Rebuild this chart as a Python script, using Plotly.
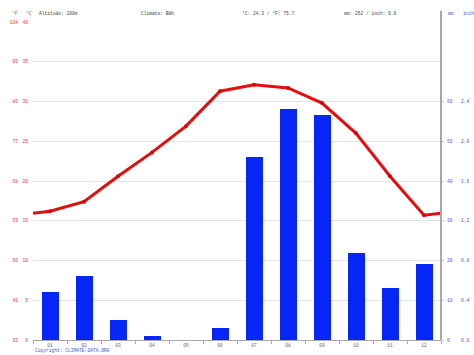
import plotly.graph_objects as go

months = ["01", "02", "03", "04", "05", "06", "07", "08", "09", "10", "11", "12"]
precip_mm = [12, 16, 5, 1, 0, 3, 46, 58, 56.5, 22, 13, 19]
temp_c = [16.2, 17.4, 20.6, 23.6, 26.9, 31.3, 32.1, 31.7, 29.8, 26.0, 20.6, 15.7]

c_ticks = [0, 5, 10, 15, 20, 25, 30, 35, 40]
f_ticks = [32, 41, 50, 59, 68, 77, 86, 95, 104]
mm_ticks = [0, 10, 20, 30, 40, 50, 60]
inch_labels = ["0.0", "0.4", "0.8", "1.2", "1.6", "2.0", "2.4"]

header = ["Altitude: 200m", "Climate: BWh", "°C: 24.3 / °F: 75.7", "mm: 252 / inch: 9.9"]

FONT = "Liberation Mono"
FS = 4.6
RED = "#e8322e"
BLUE = "#3f55d6"
GRID = "#e4e4e4"
AXIS = "#a8a8a8"

xs = list(range(1, 13))
edge = (temp_c[0] + temp_c[-1]) / 2
line_x = [0.5] + xs + [12.5]
line_y = [edge] + temp_c + [edge]

fig = go.Figure()
fig.add_trace(go.Bar(x=xs, y=precip_mm, yaxis="y2", width=0.5,
                     marker=dict(color="#0526f7", line=dict(width=0)), hoverinfo="skip"))
fig.add_trace(go.Scatter(x=line_x, y=line_y, yaxis="y", mode="lines",
                         line=dict(color="#e60d0d", width=3), hoverinfo="skip"))
fig.add_trace(go.Scatter(x=xs, y=temp_c, yaxis="y", mode="markers",
                         marker=dict(color="#d40808", size=4), hoverinfo="skip"))
# carrier traces so the °F and inch axes are drawn
fig.add_trace(go.Scatter(x=[None], y=[None], yaxis="y3", mode="lines", hoverinfo="skip"))
fig.add_trace(go.Scatter(x=[None], y=[None], yaxis="y4", mode="lines", hoverinfo="skip"))

tickfont_red = dict(family=FONT, size=FS, color=RED)
tickfont_blue = dict(family=FONT, size=FS, color=BLUE)

fig.update_layout(
    width=474, height=355,
    margin=dict(l=33, r=33, t=22, b=15, autoexpand=False),
    paper_bgcolor="white", plot_bgcolor="white",
    showlegend=False,
    bargap=0,
    xaxis=dict(range=[0.5, 12.5], tickvals=xs, ticktext=months, ticks="",
               showgrid=False, zeroline=False, showline=True, linecolor=AXIS, linewidth=1,
               tickfont=dict(family=FONT, size=FS, color="#666666"),
               minor=dict(ticks="outside", tick0=0.5, dtick=1, ticklen=3, tickcolor=AXIS, showgrid=False)),
    yaxis=dict(range=[0, 40], tickvals=c_ticks, ticktext=[str(v) for v in c_ticks],
               showgrid=True, gridcolor=GRID, gridwidth=1, zeroline=False, showline=False,
               tickfont=tickfont_red, ticks="", ticklabelstandoff=4, automargin=False),
    yaxis3=dict(range=[32, 104], tickvals=f_ticks, ticktext=[str(v) for v in f_ticks],
                overlaying="y", anchor="free", position=0, side="left", automargin=False,
                showgrid=False, zeroline=False, showline=False,
                tickfont=tickfont_red, ticks="", ticklabelstandoff=15),
    yaxis2=dict(range=[0, 80], tickvals=mm_ticks, ticktext=[str(v) for v in mm_ticks],
                overlaying="y", side="right", anchor="x", automargin=False,
                showgrid=False, zeroline=False, showline=False,
                tickfont=tickfont_blue, ticks="outside", ticklen=2, tickcolor="#c8c8e8",
                ticklabelstandoff=2),
    yaxis4=dict(range=[0, 80], tickvals=mm_ticks, ticktext=inch_labels,
                overlaying="y", anchor="free", position=1, side="right", automargin=False,
                showgrid=False, zeroline=False, showline=False,
                tickfont=tickfont_blue, ticks="", ticklabelstandoff=19),
)

fig.add_shape(type="line", xref="paper", yref="paper", x0=1, x1=1, y0=0, y1=1.035,
              line=dict(color=AXIS, width=2))

hdr_x = [37, 139, 240, 342]
for txt, px in zip(header, hdr_x):
    fig.add_annotation(text=txt, xref="paper", yref="paper", x=(px - 33) / 408, y=1.028,
                       xanchor="left", yanchor="middle", showarrow=False,
                       font=dict(family=FONT, size=FS, color="#444444"))
for txt, px, col in [("°F", 10, RED), ("°C", 24, RED), ("mm", 446, BLUE), ("inch", 461, BLUE)]:
    fig.add_annotation(text=txt, xref="paper", yref="paper", x=(px - 33) / 408, y=1.028,
                       xanchor="left", yanchor="middle", showarrow=False,
                       font=dict(family=FONT, size=FS, color=col))
fig.add_annotation(text="Copyright: CLIMATE-DATA.ORG", xref="paper", yref="paper",
                   x=0, y=-0.032, xanchor="left", yanchor="middle", showarrow=False,
                   font=dict(family=FONT, size=FS, color=BLUE))

fig.write_html("out.html")
